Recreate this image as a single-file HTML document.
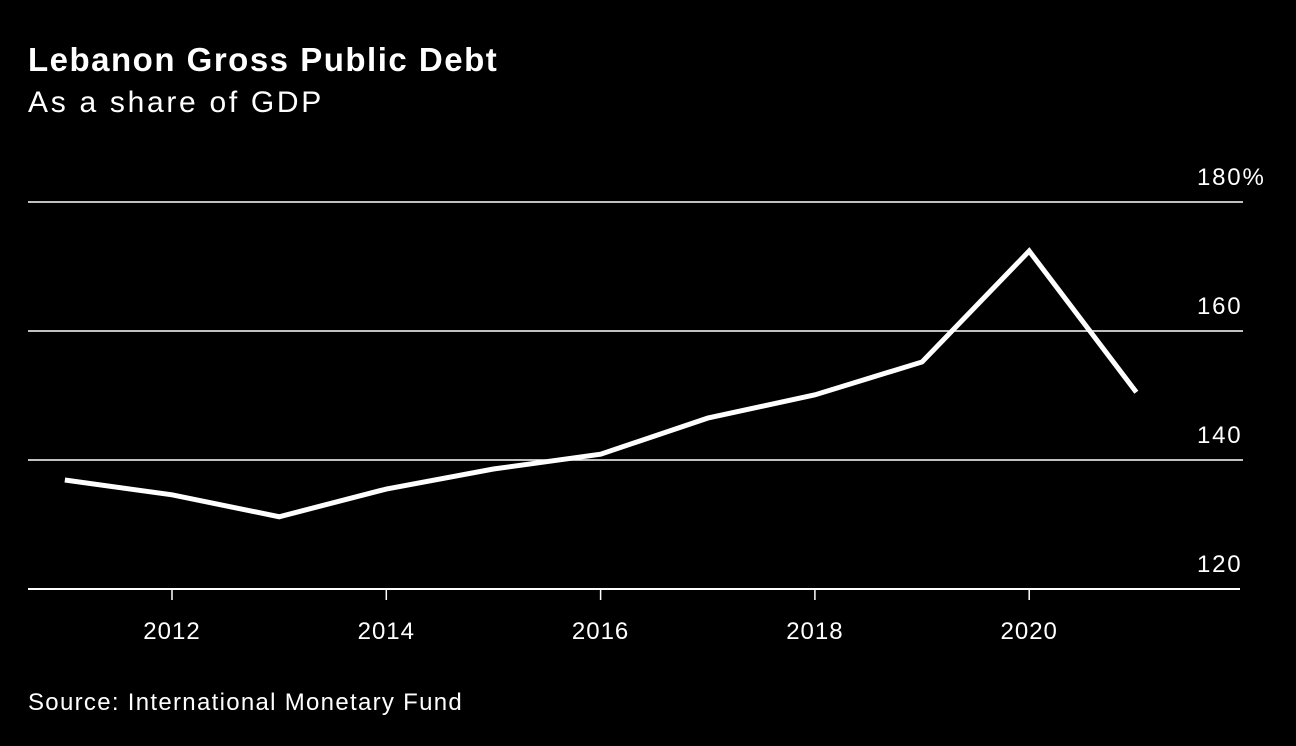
<!DOCTYPE html>
<html><head><meta charset="utf-8">
<style>
html,body{margin:0;padding:0;background:#000;}
body{width:1296px;height:746px;overflow:hidden;font-family:"Liberation Sans",sans-serif;color:#fff;position:relative;}
#title{position:absolute;left:28px;top:41px;font-size:33px;font-weight:bold;letter-spacing:1.5px;}
#subtitle{position:absolute;left:28px;top:86px;font-size:30px;letter-spacing:2.7px;}
#source{position:absolute;left:28px;top:689px;font-size:24px;letter-spacing:1.3px;}
svg{position:absolute;left:0;top:0;}
</style></head><body>
<div id="title">Lebanon Gross Public Debt</div>
<div id="subtitle">As a share of GDP</div>
<svg id="chart" width="1296" height="746"></svg>
<div id="source">Source: International Monetary Fund</div>
<script>
const years = [2011,2012,2013,2014,2015,2016,2017,2018,2019,2020,2021];
const debt = [136.9,134.6,131.2,135.5,138.6,140.9,146.5,150.1,155.2,172.4,150.5];
const yTicks = [120,140,160,180];
const yTickLabels = ["120","140","160","180%"];
const xTicks = [2012,2014,2016,2018,2020];

const NS="http://www.w3.org/2000/svg";
const svg=document.getElementById('chart');
const x = v => 172 + (v-2012)*107.15;
const y = v => 589 - (v-120)*6.45;
function mk(tag,attrs){const e=document.createElementNS(NS,tag);for(const k in attrs)e.setAttribute(k,attrs[k]);svg.appendChild(e);return e;}

yTicks.forEach((t,i)=>{
  const l=mk('line',{x1:28,x2:i===0?1240:1243,y1:y(t),y2:y(t),stroke:'#fff','stroke-width':i===0?2:1.5});
  
  
  const tx=mk('text',{x:1197,y:y(t)-17,fill:'#fff','font-size':24,'letter-spacing':1.8,'font-family':'Liberation Sans, sans-serif'});
  tx.textContent=yTickLabels[i];
  
  
});
xTicks.forEach(t=>{
  const l=mk('line',{x1:x(t),x2:x(t),y1:589,y2:600,stroke:'#fff','stroke-width':1.5});
  
  
  const tx=mk('text',{x:x(t),y:639,fill:'#fff','font-size':24,'letter-spacing':1,'text-anchor':'middle','font-family':'Liberation Sans, sans-serif'});
  tx.textContent=t;
  
  
});
const pts=years.map((yr,i)=>x(yr)+','+y(debt[i])).join(' ');
const pl=mk('polyline',{points:pts,fill:'none',stroke:'#fff','stroke-width':5,'stroke-linejoin':'miter','stroke-linecap':'butt'});


</script>
</body></html>
